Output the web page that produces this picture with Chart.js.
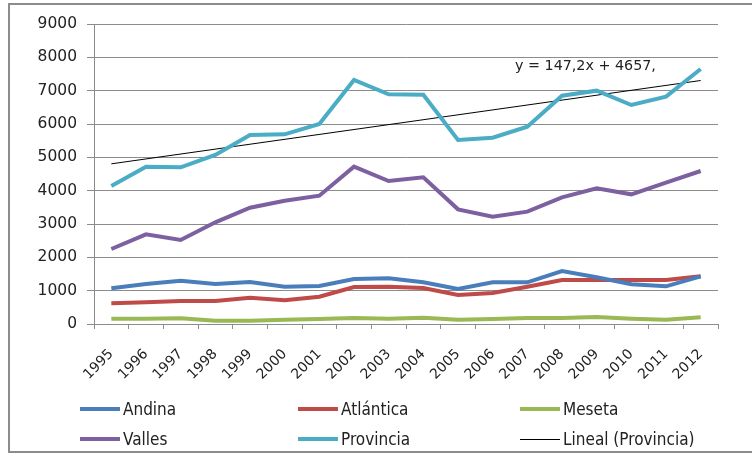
<!DOCTYPE html>
<html>
<head>
<meta charset="utf-8">
<script src="https://cdn.jsdelivr.net/npm/chart.js@4/dist/chart.umd.min.js"></script>
<style>
  html, body { margin: 0; padding: 0; background: #fff; }
  #wrap { position: relative; width: 752px; height: 455px; overflow: hidden; }
  #frame { position: absolute; left: 8px; top: 3px; width: 800px; height: 450px; border: 2px solid #8c8c8c; box-sizing: border-box; }
  canvas { position: absolute; left: 0; top: 0; }
  .leg { position: absolute; font-family: "Liberation Sans Narrow", "DejaVu Sans Condensed", sans-serif; font-size: 17px; color: #222; white-space: nowrap; line-height: 18px; }
  .sw { display: inline-block; width: 40px; vertical-align: middle; margin-right: 3px; position: relative; top: -1px; }
  #eq { position: absolute; left: 515px; top: 57px; font-family: "DejaVu Sans", sans-serif; font-size: 14.3px; color: #222; white-space: nowrap; }
</style>
</head>
<body>
<div id="wrap">
  <div id="frame"></div>
  <canvas id="c" width="752" height="455"></canvas>
  <div id="eq">y = 147,2x + 4657,</div>
  <div id="legend"></div>
</div>
<script>
const years = ["1995","1996","1997","1998","1999","2000","2001","2002","2003","2004","2005","2006","2007","2008","2009","2010","2011","2012"];
const andina    = [1070,1200,1300,1200,1260,1120,1140,1350,1370,1250,1050,1250,1250,1590,1400,1190,1130,1430];
const atlantica = [620,650,690,690,790,710,820,1110,1120,1080,870,930,1120,1320,1320,1320,1320,1430];
const meseta    = [160,160,170,100,100,130,150,180,160,190,130,150,180,180,210,160,130,200];
const valles    = [2250,2690,2520,3050,3490,3700,3850,4720,4290,4400,3440,3220,3370,3800,4070,3890,4240,4590];
const provincia = [4140,4720,4700,5070,5670,5690,6000,7320,6890,6880,5520,5590,5920,6850,7000,6570,6820,7650];
const trendProvincia = [4805,null,null,null,null,null,null,null,null,null,null,null,null,null,null,null,null,7305];
const yTicks = [0,1000,2000,3000,4000,5000,6000,7000,8000,9000];

const series = [
  {label:"Andina", data:andina, color:"#4A7EBB", w:4},
  {label:"Atlántica", data:atlantica, color:"#BE4B48", w:4},
  {label:"Meseta", data:meseta, color:"#98B954", w:4},
  {label:"Valles", data:valles, color:"#7D60A0", w:4},
  {label:"Provincia", data:provincia, color:"#4BACC6", w:4},
  {label:"Lineal (Provincia)", data:trendProvincia, color:"#000000", w:1}
];

const datasets = series.map(s => ({
  label: s.label, data: s.data, borderColor: s.color, backgroundColor: s.color,
  borderWidth: s.w, pointRadius: 0, tension: 0, spanGaps: true, fill: false
}));

new Chart(document.getElementById('c'), {
  type: 'line',
  data: { labels: years, datasets },
  options: {
    responsive: false,
    animation: false,
    layout: { padding: { left: 0, top: 24, right: 34, bottom: 0 } },
    plugins: { legend: { display: false }, tooltip: { enabled: false }, title: { display: false } },
    scales: {
      x: {
        offset: true,
        grid: { display: true, drawOnChartArea: false, offset: true, tickLength: 5, color: '#8c8c8c', lineWidth: 1 },
        border: { color: '#8c8c8c', width: 1 },
        ticks: { color: '#222', font: { family: "'DejaVu Sans', sans-serif", size: 14 }, maxRotation: 45, minRotation: 45, autoSkip: false, padding: 17 },
        afterFit: (s) => { s.height = 131; }
      },
      y: {
        min: 0, max: 9000,
        afterBuildTicks: (s) => { s.ticks = yTicks.map(v => ({ value: v })); },
        grid: { color: '#8c8c8c', lineWidth: 1, tickLength: 7 },
        border: { color: '#8c8c8c', width: 1 },
        ticks: { color: '#222', font: { family: "'DejaVu Sans', sans-serif", size: 15.5 }, padding: 10, callback: (v) => String(v) },
        afterFit: (s) => { s.width = 94; }
      }
    }
  }
});

// HTML legend built from the series
const legPos = [[80,400],[298,400],[520,400],[80,430],[298,430],[520,430]];
const leg = document.getElementById('legend');
series.forEach((s, i) => {
  const d = document.createElement('div');
  d.className = 'leg';
  d.style.left = legPos[i][0] + 'px';
  d.style.top = legPos[i][1] + 'px';
  const sw = document.createElement('span');
  sw.className = 'sw';
  sw.style.height = (s.w === 1 ? 1 : 4) + 'px';
  sw.style.background = s.color;
  d.appendChild(sw);
  d.appendChild(document.createTextNode(s.label));
  leg.appendChild(d);
});
</script>
</body>
</html>
